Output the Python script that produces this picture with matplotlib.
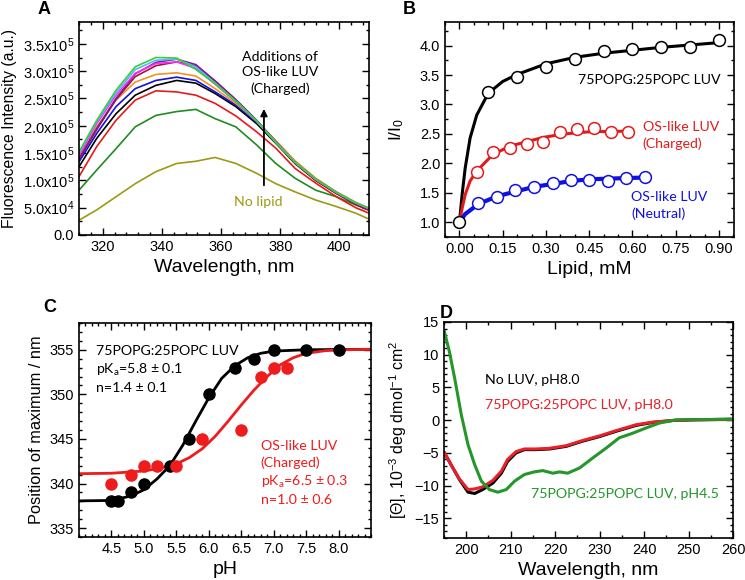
import numpy as np
import matplotlib
matplotlib.use('Agg')
import matplotlib.pyplot as plt
from matplotlib.ticker import MultipleLocator, FixedLocator, FuncFormatter

plt.rcParams['font.family'] = ['Liberation Sans', 'DejaVu Sans']
plt.rcParams['mathtext.default'] = 'regular'
plt.rcParams['xtick.direction'] = 'in'
plt.rcParams['ytick.direction'] = 'in'
plt.rcParams['xtick.top'] = True
plt.rcParams['ytick.right'] = True
plt.rcParams['xtick.major.size'] = 5
plt.rcParams['ytick.major.size'] = 5
plt.rcParams['xtick.minor.size'] = 2.5
plt.rcParams['ytick.minor.size'] = 2.5
plt.rcParams['xtick.minor.visible'] = True
plt.rcParams['ytick.minor.visible'] = True

ANNO = ['Lato', 'DejaVu Sans']
FS = 10.2

# ---- panel A: emission spectra (intensity in units of 1e5) ----
a_wl = [312, 318, 324.5, 331, 338, 345, 351.5, 358, 365, 372, 378.5, 385, 392, 399, 405.5, 410]
a_nolipid = [0.27, 0.46, 0.70, 0.94, 1.16, 1.31, 1.35, 1.42, 1.31, 1.13, 0.94, 0.79, 0.64, 0.52, 0.40, 0.29]
a_dgreen = [0.82, 1.19, 1.58, 1.98, 2.19, 2.26, 2.30, 2.13, 1.98, 1.65, 1.31, 1.04, 0.82, 0.70, 0.55, 0.46]
a_red = [1.07, 1.62, 2.10, 2.47, 2.64, 2.62, 2.56, 2.41, 2.18, 1.89, 1.59, 1.22, 0.95, 0.70, 0.50, 0.40]
a_black = [1.25, 1.77, 2.22, 2.56, 2.74, 2.83, 2.78, 2.59, 2.35, 2.04, 1.68, 1.31, 1.00, 0.76, 0.58, 0.47]
a_blue = [1.34, 1.86, 2.35, 2.68, 2.83, 2.89, 2.83, 2.62, 2.38, 2.07, 1.71, 1.34, 1.03, 0.78, 0.59, 0.48]
a_orange = [1.43, 1.98, 2.47, 2.80, 2.94, 2.97, 2.91, 2.68, 2.41, 2.09, 1.73, 1.36, 1.04, 0.79, 0.60, 0.49]
a_maroon = [1.38, 1.93, 2.48, 2.90, 3.10, 3.17, 3.10, 2.82, 2.47, 2.10, 1.70, 1.32, 1.00, 0.76, 0.56, 0.45]
a_purple = [1.40, 1.95, 2.50, 2.95, 3.16, 3.22, 3.12, 2.82, 2.48, 2.10, 1.71, 1.33, 1.02, 0.78, 0.58, 0.47]
a_magenta = [1.46, 2.04, 2.56, 2.96, 3.14, 3.17, 3.05, 2.76, 2.44, 2.08, 1.70, 1.33, 1.02, 0.78, 0.59, 0.48]
a_cyan = [1.50, 2.08, 2.60, 3.03, 3.20, 3.22, 3.08, 2.78, 2.45, 2.09, 1.70, 1.33, 1.02, 0.78, 0.59, 0.49]
a_lgreen = [1.52, 2.10, 2.65, 3.08, 3.25, 3.24, 3.03, 2.77, 2.45, 2.09, 1.69, 1.33, 1.02, 0.78, 0.59, 0.49]
a_ylabels = ['0.0', '5.0x10$^4$', '1.0x10$^5$', '1.5x10$^5$', '2.0x10$^5$',
             '2.5x10$^5$', '3.0x10$^5$', '3.5x10$^5$']

# ---- panel B: I/I0 vs lipid ----
b_pg_x = [0, 0.1, 0.2, 0.3, 0.4, 0.5, 0.6, 0.7, 0.8, 0.9]
b_pg_y = [1.0, 3.21, 3.46, 3.64, 3.78, 3.91, 3.95, 3.97, 3.98, 4.10]
b_pg_fit_x = [0, 0.005, 0.01, 0.02, 0.037, 0.06, 0.1, 0.15, 0.2, 0.3, 0.4, 0.5, 0.6, 0.7, 0.8, 0.9]
b_pg_fit_y = [1.0, 1.25, 1.5, 1.92, 2.43, 2.82, 3.19, 3.39, 3.51, 3.69, 3.80, 3.87, 3.92, 3.97, 4.01, 4.05]
b_ch_x = [0.06, 0.116, 0.174, 0.234, 0.29, 0.35, 0.407, 0.465, 0.525, 0.584]
b_ch_y = [1.85, 2.19, 2.26, 2.33, 2.37, 2.53, 2.59, 2.60, 2.53, 2.54]
b_ch_fit_x = [0, 0.01, 0.02, 0.037, 0.06, 0.116, 0.174, 0.234, 0.29, 0.35, 0.407, 0.465, 0.525, 0.584]
b_ch_fit_y = [1.0, 1.25, 1.47, 1.70, 1.87, 2.15, 2.29, 2.37, 2.44, 2.49, 2.52, 2.54, 2.54, 2.55]
b_ne_x = [0.066, 0.13, 0.193, 0.257, 0.323, 0.387, 0.45, 0.514, 0.577, 0.644]
b_ne_y = [1.33, 1.43, 1.54, 1.60, 1.67, 1.71, 1.71, 1.70, 1.75, 1.77]
b_ne_fit_x = [0, 0.02, 0.066, 0.13, 0.193, 0.257, 0.323, 0.387, 0.45, 0.514, 0.577, 0.644]
b_ne_fit_y = [1.0, 1.14, 1.31, 1.44, 1.52, 1.60, 1.65, 1.70, 1.73, 1.74, 1.75, 1.76]

# ---- panel C: position of maximum vs pH ----
c_pg_ph = [4.5, 4.6, 4.8, 5.0, 5.4, 5.7, 6.0, 6.4, 6.7, 7.0, 7.5, 8.0]
c_pg_pos = [338, 338, 339, 340, 342, 345, 350, 353, 354, 355, 355, 355]
c_pg_fit_ph = [4.0, 4.5, 4.8, 5.0, 5.2, 5.4, 5.6, 5.8, 6.0, 6.2, 6.4, 6.6, 6.8, 7.0, 7.5, 8.5]
c_pg_fit_pos = [338.05, 338.1, 338.6, 339.3, 340.5, 342.0, 344.3, 347.0, 349.6, 351.8, 353.2, 354.1, 354.6, 354.85, 355.0, 355.05]
c_os_ph = [4.5, 4.8, 5.0, 5.2, 5.5, 5.9, 6.5, 6.8, 7.0, 7.2]
c_os_pos = [340, 341, 342, 342, 342, 345, 346, 352, 353, 353]
c_os_fit_ph = [4.0, 4.5, 5.0, 5.3, 5.5, 5.7, 5.9, 6.1, 6.3, 6.5, 6.7, 6.9, 7.1, 7.3, 7.5, 7.8, 8.1, 8.5]
c_os_fit_pos = [341.1, 341.15, 341.4, 341.8, 342.2, 342.9, 343.9, 345.3, 347.0, 348.8, 350.5, 352.0, 353.3, 354.1, 354.6, 354.9, 355.0, 355.05]

# ---- panel D: CD spectra ----
d_wl = [195.1, 197.0, 198.5, 200.4, 201.9, 203.7, 206.0, 207.9, 209.3, 211.2, 213.1,
        215.7, 218.7, 222.5, 226.2, 230.0, 233.7, 238.2, 241.9, 246.4, 250.9, 260.0]
d_noluv = [-5.0, -7.3, -9.1, -11.0, -11.2, -10.6, -9.6, -8.1, -6.3, -5.0, -4.5,
           -4.5, -4.4, -4.0, -3.2, -2.5, -1.7, -0.8, -0.35, -0.05, 0.05, 0.15]
d_ph80 = [-5.0, -7.3, -9.0, -10.6, -10.5, -10.2, -9.2, -7.8, -6.0, -4.8, -4.4,
          -4.4, -4.3, -3.9, -3.1, -2.4, -1.6, -0.7, -0.3, -0.05, 0.05, 0.1]
d_wl45 = [195.1, 196.2, 197.4, 198.9, 200.4, 201.9, 203.4, 205.2, 207.1, 209.0, 210.9, 213.1, 215.3,
          217.2, 219.5, 221.0, 222.8, 225.5, 228.4, 231.5, 234.4, 237.4, 240.4, 243.4, 247.2, 260.0]
d_ph45 = [13.5, 10.5, 6.4, 0.8, -3.75, -6.8, -9.3, -10.6, -11.0, -10.6, -9.3, -8.3, -7.9,
          -7.7, -8.1, -7.9, -8.1, -7.3, -5.8, -4.25, -2.7, -2.0, -1.2, -0.45, 0.06, 0.15]

fig = plt.figure(figsize=(7.45, 5.8), dpi=100)
axA = fig.add_axes([79/745, 1-235/580, 290/745, 213/580])
axB = fig.add_axes([445/745, 1-237/580, 289/745, 215/580])
axC = fig.add_axes([79/745, 1-537/580, 292/745, 214/580])
axD = fig.add_axes([444/745, 1-538/580, 289/745, 216/580])

for ax in (axA, axB, axC, axD):
    ax.tick_params(which='both', labelsize=10.5, width=1)
    for s in ax.spines.values():
        s.set_linewidth(1.2)

# panel A
spectra = [(a_nolipid, '#9c9a14'), (a_dgreen, '#1f8c1f'), (a_red, '#e31a1a'),
           (a_black, 'black'), (a_blue, '#1010e0'), (a_orange, '#f39323'),
           (a_maroon, '#a3123a'), (a_purple, '#7a1e8c'), (a_magenta, '#ff2bff'),
           (a_cyan, '#52b6ff'), (a_lgreen, '#35d035')]
for vals, col in spectra:
    axA.plot(a_wl, np.array(vals) * 1e5, color=col, lw=1.2)
axA.set_xlim(312, 410)
axA.set_ylim(0, 3.9e5)
axA.xaxis.set_major_locator(MultipleLocator(20))
axA.xaxis.set_minor_locator(MultipleLocator(4))
axA.yaxis.set_major_locator(MultipleLocator(0.5e5))
axA.yaxis.set_minor_locator(MultipleLocator(0.25e5))
axA.yaxis.set_major_formatter(FuncFormatter(
    lambda v, p: a_ylabels[int(round(v / 0.5e5))] if 0 <= round(v / 0.5e5) < len(a_ylabels) else ''))
axA.set_xlabel('Wavelength, nm', fontsize=14)
axA.set_ylabel('Fluorescence Intensity (a.u.)', fontsize=11.3)
axA.annotate('', xy=(374.5, 2.36e5), xytext=(374.5, 0.86e5),
             arrowprops=dict(arrowstyle='-|>', color='black', lw=1.3, mutation_scale=10))
axA.text(380, 2.97e5, 'Additions of\nOS-like LUV\n(Charged)', ha='center', va='center',
         fontsize=FS, family=ANNO, linespacing=1.35)
axA.text(372.5, 0.61e5, 'No lipid', ha='center', va='center', fontsize=FS,
         family=ANNO, color='#9c9a14')

# panel B
axB.plot(b_pg_fit_x, b_pg_fit_y, color='black', lw=2.2)
axB.plot(b_ch_fit_x, b_ch_fit_y, color='#e31a1a', lw=2.2)
axB.plot(b_ne_fit_x, b_ne_fit_y, color='#1010e0', lw=3)
mk = dict(ls='none', marker='o', ms=8.5, mfc='white', mew=1.1)
axB.plot(b_ch_x, b_ch_y, mec='#e31a1a', **mk)
axB.plot(b_ne_x, b_ne_y, mec='#1010e0', **mk)
axB.plot(b_pg_x, b_pg_y, mec='black', **mk)
axB.set_xlim(-0.05, 0.952)
axB.set_ylim(0.75, 4.4)
axB.xaxis.set_major_locator(MultipleLocator(0.15))
axB.xaxis.set_minor_locator(MultipleLocator(0.05))
axB.yaxis.set_major_locator(MultipleLocator(0.5))
axB.yaxis.set_minor_locator(MultipleLocator(0.25))
axB.xaxis.set_major_formatter(FuncFormatter(lambda v, p: f'{v:.2f}' if v > -0.01 else ''))
axB.yaxis.set_major_formatter(FuncFormatter(lambda v, p: f'{v:.1f}'))
axB.set_xlabel('Lipid, mM', fontsize=14)
axB.set_ylabel('I/I$_0$', fontsize=12.5, labelpad=10)
axB.text(0.66, 3.41, '75POPG:25POPC LUV', ha='center', va='center', fontsize=FS, family=ANNO)
axB.text(0.635, 2.475, 'OS-like LUV\n(Charged)', ha='left', va='center', fontsize=FS,
         family=ANNO, color='#e31a1a', linespacing=1.4)
axB.text(0.595, 1.29, 'OS-like LUV\n(Neutral)', ha='left', va='center', fontsize=FS,
         family=ANNO, color='#1010e0', linespacing=1.4)

# panel C
axC.plot(c_pg_fit_ph, c_pg_fit_pos, color='black', lw=2)
axC.plot(c_os_fit_ph, c_os_fit_pos, color='#ee1c1c', lw=2)
axC.plot(c_pg_ph, c_pg_pos, 'o', color='black', ms=8)
axC.plot(c_os_ph, c_os_pos, 'o', color='#ee1c1c', ms=8)
axC.set_xlim(4.0, 8.5)
axC.set_ylim(334, 358)
axC.xaxis.set_major_locator(FixedLocator([4.5, 5.0, 5.5, 6.0, 6.5, 7.0, 7.5, 8.0]))
axC.xaxis.set_minor_locator(MultipleLocator(0.1))
axC.yaxis.set_major_locator(MultipleLocator(5))
axC.yaxis.set_minor_locator(MultipleLocator(1))
axC.xaxis.set_major_formatter(FuncFormatter(lambda v, p: f'{v:.1f}'))
axC.set_xlabel('pH', fontsize=14)
axC.set_ylabel('Position of maximum / nm', fontsize=11.8)
axC.text(4.26, 352.8, '75POPG:25POPC LUV\npK$_a$=5.8 ± 0.1\nn=1.4 ± 0.1', ha='left', va='center',
         fontsize=FS, family=ANNO, linespacing=1.4)
axC.text(6.8, 341.15, 'OS-like LUV\n(Charged)\npK$_a$=6.5 ± 0.3\nn=1.0 ± 0.6', ha='left', va='center',
         fontsize=FS, family=ANNO, color='#ee1c1c', linespacing=1.4)

# panel D
axD.plot(d_wl, d_noluv, color='black', lw=2.2)
axD.plot(d_wl, d_ph80, color='#e8202a', lw=2.2)
axD.plot(d_wl45, d_ph45, color='#24962a', lw=2.2)
axD.set_xlim(195, 260)
axD.set_ylim(-18, 15)
axD.xaxis.set_major_locator(MultipleLocator(10))
axD.xaxis.set_minor_locator(MultipleLocator(5))
axD.yaxis.set_major_locator(MultipleLocator(5))
axD.yaxis.set_minor_locator(MultipleLocator(1))
axD.set_xlabel('Wavelength, nm', fontsize=14)
axD.set_ylabel('[Θ], 10$^{-3}$ deg dmol$^{-1}$ cm$^2$', fontsize=11.5)
axD.text(204.3, 6.2, 'No LUV, pH8.0', ha='left', va='center', fontsize=FS, family=ANNO)
axD.text(204.3, 2.26, '75POPG:25POPC LUV, pH8.0', ha='left', va='center', fontsize=FS,
         family=ANNO, color='#e8202a')
axD.text(214.5, -11.3, '75POPG:25POPC LUV, pH4.5', ha='left', va='center', fontsize=FS,
         family=ANNO, color='#24962a')

# panel letters
for lab, x, y in [('A', 44, 9), ('B', 409, 9), ('C', 50, 308), ('D', 446, 313)]:
    fig.text(x/745, 1-y/580, lab, fontsize=13, fontweight='bold', ha='center', va='center')

fig.savefig('out.png', dpi=100)
